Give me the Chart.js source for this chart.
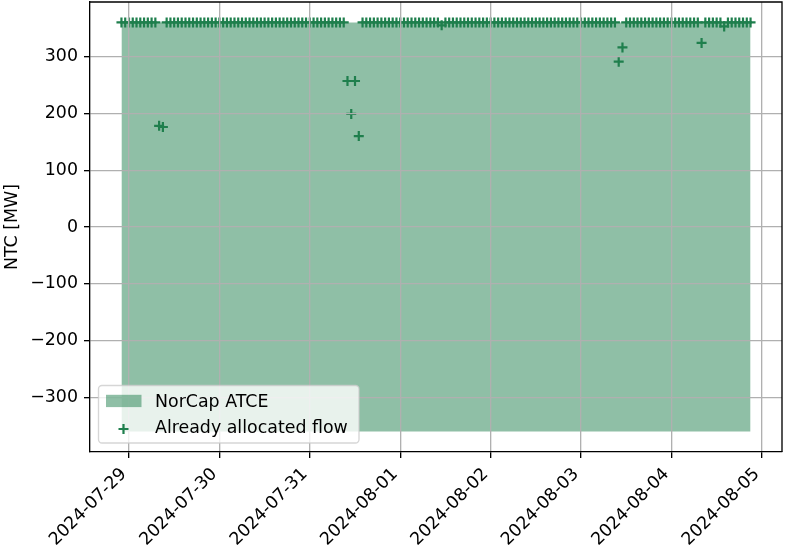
<!DOCTYPE html>
<html>
<head>
<meta charset="utf-8">
<title>NTC</title>
<script src="https://cdn.jsdelivr.net/npm/chart.js@4.4.1/dist/chart.umd.min.js"></script>
<style>
  html, body { margin: 0; padding: 0; background: #fff; }
  #chart { display: block; }
</style>
</head>
<body>
<canvas id="chart" width="785" height="553"></canvas>
<script>
// hourly values, first hour 2024-07-28 22:00, one row per day (22:00 .. 21:00)
const startTime = "2024-07-28T22:00:00Z";
const dayTicks = ["2024-07-29", "2024-07-30", "2024-07-31", "2024-08-01",
                  "2024-08-02", "2024-08-03", "2024-08-04", "2024-08-05"];
const yTicks = [-300, -200, -100, 0, 100, 200, 300];

const atceUpper = [
  360,360,360,360,360,360,360,360,360,360,360,360,360,360,360,360,360,360,360,360,360,360,360,360,
  360,360,360,360,360,360,360,360,360,360,360,360,360,360,360,360,360,360,360,360,360,360,360,360,
  360,360,360,360,360,360,360,360,360,360,360,360,360,360,360,360,360,360,360,360,360,360,360,360,
  360,360,360,360,360,360,360,360,360,360,360,360,360,360,360,360,360,360,360,360,360,360,360,360,
  360,360,360,360,360,360,360,360,360,360,360,360,360,360,360,360,360,360,360,360,360,360,360,360,
  360,360,360,360,360,360,360,360,360,360,360,360,360,360,360,360,360,360,360,360,360,360,360,360,
  360,360,360,360,360,360,360,360,360,360,360,360,360,360,360,360,360,360,360,360,360,360,360,360
];
const atceLower = [
  -360,-360,-360,-360,-360,-360,-360,-360,-360,-360,-360,-360,-360,-360,-360,-360,-360,-360,-360,-360,-360,-360,-360,-360,
  -360,-360,-360,-360,-360,-360,-360,-360,-360,-360,-360,-360,-360,-360,-360,-360,-360,-360,-360,-360,-360,-360,-360,-360,
  -360,-360,-360,-360,-360,-360,-360,-360,-360,-360,-360,-360,-360,-360,-360,-360,-360,-360,-360,-360,-360,-360,-360,-360,
  -360,-360,-360,-360,-360,-360,-360,-360,-360,-360,-360,-360,-360,-360,-360,-360,-360,-360,-360,-360,-360,-360,-360,-360,
  -360,-360,-360,-360,-360,-360,-360,-360,-360,-360,-360,-360,-360,-360,-360,-360,-360,-360,-360,-360,-360,-360,-360,-360,
  -360,-360,-360,-360,-360,-360,-360,-360,-360,-360,-360,-360,-360,-360,-360,-360,-360,-360,-360,-360,-360,-360,-360,-360,
  -360,-360,-360,-360,-360,-360,-360,-360,-360,-360,-360,-360,-360,-360,-360,-360,-360,-360,-360,-360,-360,-360,-360,-360
];
const allocatedFlow = [
  360,360,360,360,360,360,360,360,360,360,178,176,360,360,360,360,360,360,360,360,360,360,360,360,
  360,360,360,360,360,360,360,360,360,360,360,360,360,360,360,360,360,360,360,360,360,360,360,360,
  360,360,360,360,360,360,360,360,360,360,360,360,257,199,257,160,360,360,360,360,360,360,360,360,
  360,360,360,360,360,360,360,360,360,360,360,360,360,355,360,360,360,360,360,360,360,360,360,360,
  360,360,360,360,360,360,360,360,360,360,360,360,360,360,360,360,360,360,360,360,360,360,360,360,
  360,360,360,360,360,360,360,360,360,360,360,360,291,316,360,360,360,360,360,360,360,360,360,360,
  360,360,360,360,360,360,360,360,360,360,324,360,360,360,360,360,353,360,360,360,360,360,360,360
];

const HOUR = 3600000;
const t0 = Date.parse(startTime);
const times = allocatedFlow.map((v, i) => t0 + i * HOUR);
const span = times[times.length - 1] - t0;

const green = "#1f7f4d";
const greenFill = "rgba(31, 127, 77, 0.5)";
const fontSize = 17.4;
const lw = 1.33;

Chart.defaults.font.family = "'DejaVu Sans', sans-serif";
Chart.defaults.font.size = fontSize;
Chart.defaults.color = "#000";

const framePlugin = {
  id: "frame",
  afterDraw(chart) {
    const { ctx, chartArea: a } = chart;
    ctx.save();
    // top and right spines
    ctx.strokeStyle = "#000";
    ctx.lineWidth = lw;
    ctx.beginPath();
    ctx.moveTo(a.left, a.top);
    ctx.lineTo(a.right, a.top);
    ctx.lineTo(a.right, a.bottom);
    ctx.stroke();

    // legend, lower left
    const bx = a.left + 8.5, by = a.bottom - 66.5, bw = 260.5, bh = 57.5;
    ctx.beginPath();
    ctx.roundRect(bx, by, bw, bh, 3.5);
    ctx.fillStyle = "rgba(255,255,255,0.8)";
    ctx.fill();
    ctx.strokeStyle = "rgba(204,204,204,0.8)";
    ctx.lineWidth = lw;
    ctx.stroke();

    const fillSet = chart.data.datasets[1];
    const flowSet = chart.data.datasets[0];
    ctx.fillStyle = fillSet.backgroundColor;
    ctx.fillRect(bx + 7.5, by + 9.3, 35.5, 12.3);

    ctx.strokeStyle = flowSet.borderColor;
    ctx.lineWidth = flowSet.borderWidth;
    const mx = bx + 25, my = by + 43.5, r = flowSet.pointRadius;
    ctx.beginPath();
    ctx.moveTo(mx - r, my); ctx.lineTo(mx + r, my);
    ctx.moveTo(mx, my - r); ctx.lineTo(mx, my + r);
    ctx.stroke();

    ctx.fillStyle = "#000";
    ctx.font = fontSize + "px 'DejaVu Sans'";
    ctx.textBaseline = "alphabetic";
    ctx.textAlign = "left";
    ctx.fillText(fillSet.label, bx + 56.5, by + 21.8);
    ctx.fillText(flowSet.label, bx + 56.5, by + 47.4);
    ctx.restore();
  }
};

const gridOpts = {
  z: 1,
  color: "#b0b0b0",
  lineWidth: lw,
  tickColor: "#000",
  tickWidth: lw,
  tickLength: 6
};

new Chart(document.getElementById("chart"), {
  data: {
    datasets: [
      {
        type: "scatter",
        label: "Already allocated flow",
        data: allocatedFlow.map((v, i) => ({ x: times[i], y: v })),
        pointStyle: "cross",
        pointRadius: 5,
        pointHoverRadius: 5,
        borderColor: green,
        backgroundColor: green,
        borderWidth: 2.2,
        order: 0
      },
      {
        type: "line",
        label: "NorCap ATCE",
        data: atceUpper.map((v, i) => ({ x: times[i], y: v })),
        fill: "+1",
        backgroundColor: greenFill,
        borderColor: "transparent",
        borderWidth: 0,
        pointRadius: 0,
        tension: 0,
        order: 1
      },
      {
        type: "line",
        label: "",
        data: atceLower.map((v, i) => ({ x: times[i], y: v })),
        fill: false,
        borderColor: "transparent",
        borderWidth: 0,
        pointRadius: 0,
        tension: 0,
        order: 2
      }
    ]
  },
  options: {
    responsive: false,
    animation: false,
    events: [],
    layout: { autoPadding: false, padding: { top: 2, right: 3, left: 0, bottom: 0 } },
    plugins: {
      legend: { display: false },
      tooltip: { enabled: false }
    },
    scales: {
      x: {
        type: "linear",
        min: t0 - 0.05 * span,
        max: times[times.length - 1] + 0.05 * span,
        afterBuildTicks: (scale) => {
          scale.ticks = dayTicks.map(d => ({ value: Date.parse(d + "T00:00:00Z") }));
        },
        afterFit: (scale) => {
          scale.height = 101;
          scale.paddingLeft = 0;
          scale.paddingRight = 0;
        },
        ticks: {
          font: { size: fontSize },
          autoSkip: false,
          minRotation: 45,
          maxRotation: 45,
          padding: 6,
          labelOffset: -5,
          callback: (value, index) => dayTicks[index]
        },
        grid: gridOpts,
        border: { color: "#000", width: lw, z: 1 }
      },
      y: {
        type: "linear",
        min: -396,
        max: 396,
        afterBuildTicks: (scale) => {
          scale.ticks = yTicks.map(v => ({ value: v }));
        },
        afterFit: (scale) => {
          scale.width = 90;
          scale.paddingTop = 0;
          scale.paddingBottom = 0;
        },
        ticks: {
          font: { size: fontSize },
          padding: 6,
          callback: (value) => String(value).replace("-", "\u2212")
        },
        grid: gridOpts,
        border: { color: "#000", width: lw, z: 1 },
        title: {
          display: true,
          text: "NTC [MW]",
          font: { size: fontSize },
          padding: { top: 2, bottom: 0 }
        }
      }
    }
  },
  plugins: [framePlugin]
});
</script>
</body>
</html>
